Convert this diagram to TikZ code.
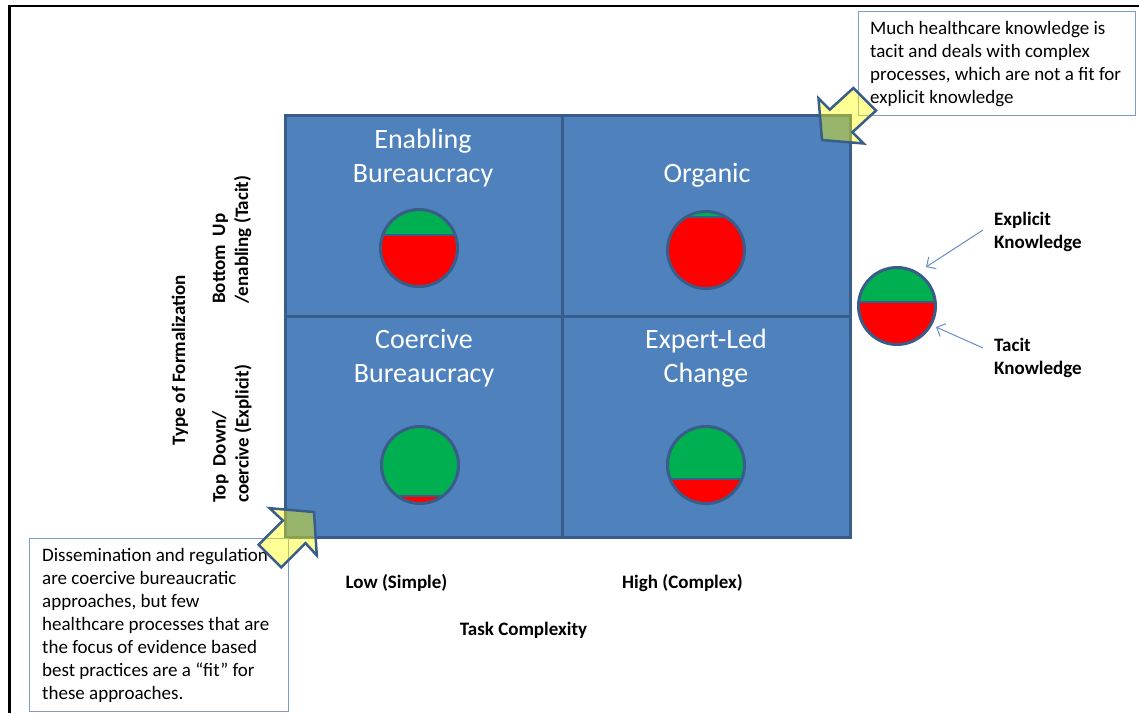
\documentclass[tikz,border=0pt]{standalone}
\usepackage{fontspec}
\setmainfont{Carlito}
\usetikzlibrary{arrows.meta}
\definecolor{gridfill}{HTML}{4F81BD}
\definecolor{gridline}{HTML}{385D8A}
\definecolor{kgreen}{HTML}{00B050}
\definecolor{kred}{HTML}{FF0000}
\definecolor{boxline}{RGB}{124,155,205}
\definecolor{arrline}{RGB}{100,140,200}
\definecolor{callfill}{RGB}{255,255,0}
\tikzset{
  cell/.style={draw=gridline, fill=gridfill, line width=3pt, inner sep=0pt},
  title/.style={text=white, font=\fontsize{28}{34}\selectfont, align=center, inner sep=0pt},
  pie/.style={circle, draw=gridline, line width=3pt, fill=kgreen, minimum size=77pt, inner sep=0pt,
    path picture={
      \fill[kred] ([yshift=#1]path picture bounding box.center) ++(-50pt,0pt) rectangle ++(100pt,-80pt);
      \draw[gridline, line width=2.5pt] ([yshift=#1]path picture bounding box.center) ++(-50pt,0pt) -- ++(100pt,0pt);
    }},
  lab/.style={font=\fontsize{19}{23}\selectfont\bfseries, inner sep=0pt},
  note/.style={font=\fontsize{19}{23}\selectfont, align=left, inner sep=0pt},
  notebox/.style={draw=boxline, line width=1pt, inner sep=0pt},
  legarrow/.style={draw=arrline, line width=1pt, -{Straight Barb[length=7pt,width=14pt]}},
  callarrow/.style={draw=gridline, line width=2.5pt, fill=callfill, fill opacity=0.42, line join=miter},
}
\begin{document}
\begin{tikzpicture}[x=1pt,y=-1pt]
\useasboundingbox (0,0) rectangle (1139,713);
% frame
\draw[line width=2.7pt] (1139,6) -- (9.7,6) -- (9.7,713);
% grid cells
\node[cell, minimum width=277pt, minimum height=201pt] (q1) at (423.5,215.5) {};
\node[cell, minimum width=288pt, minimum height=201pt] (q2) at (706,215.5) {};
\node[cell, minimum width=277pt, minimum height=221pt] (q3) at (423.5,426.5) {};
\node[cell, minimum width=288pt, minimum height=221pt] (q4) at (706,426.5) {};
% titles
\node[title] (t1) at (423,158) {Enabling\\Bureaucracy};
\node[title, anchor=base] (t2) at (707,182) {Organic};
\node[title] (t3) at (424,358) {Coercive\\Bureaucracy};
\node[title] (t4) at (706,358) {Expert-Led\\Change};
% pies
\node[pie=13pt] (p1) at (419,248) {};
\node[pie=33pt] (p2) at (706,250) {};
\node[pie=-31pt] (p3) at (420,465) {};
\node[pie=-14pt] (p4) at (706,465) {};
\node[pie=4pt] (leg) at (897,306) {};
% legend labels
\node[lab, anchor=west, align=left] (expl) at (994,232) {Explicit\\Knowledge};
\node[lab, anchor=west, align=left] (tac) at (994,358) {Tacit\\Knowledge};
\coordinate (explTip) at (926,267);
\coordinate (tacTip) at (936,327);
\draw[legarrow] ([xshift=-11pt,yshift=2pt]expl.west) -- (explTip);
\draw[legarrow] ([xshift=-11pt,yshift=10pt]tac.west) -- (tacTip);
% axis labels
\node[lab, anchor=base] (low) at (396.5,588) {Low (Simple)};
\node[lab, anchor=base] (high) at (682.5,588) {High (Complex)};
\node[lab, anchor=base] (task) at (523.5,635) {Task Complexity};
\node[lab, anchor=base, rotate=90] (type) at (185,360) {Type of Formalization};
\node[lab, anchor=west, align=left, rotate=90] (bu) at (232,304) {Bottom\ \ Up\\/enabling (Tacit)};
\node[lab, anchor=west, align=left, rotate=90] (td) at (232,503) {Top\ \ Down/\\coercive (Explicit)};
% callout boxes
\node[notebox, anchor=north west, minimum width=277pt, minimum height=104pt] (tbox) at (858,11) {};
\node[note, anchor=north west] (ttext) at (870,21) {Much healthcare knowledge is\\tacit and deals with complex\\processes, which are not a fit for\\explicit knowledge};
\node[notebox, anchor=north west, minimum width=259pt, minimum height=173pt] (bbox) at (29,538) {};
\node[note, anchor=north west] (btext) at (42,548.5) {Dissemination and regulation\\are coercive bureaucratic\\approaches, but few\\healthcare processes that are\\the focus of evidence based\\best practices are a “fit” for\\these approaches.};
% block arrows
\draw[callarrow] (822,140) -- (863.7,143.5) -- (852.4,132.2) -- (876,110.6) -- (853.4,88) -- (829.8,109.6) -- (818.5,98.3) -- cycle;
\draw[callarrow] (314,512) -- (316.8,555.4) -- (305.5,543.1) -- (281.2,567.4) -- (258.6,544.8) -- (282.9,520.5) -- (269.6,508.2) -- cycle;
\end{tikzpicture}
\end{document}
